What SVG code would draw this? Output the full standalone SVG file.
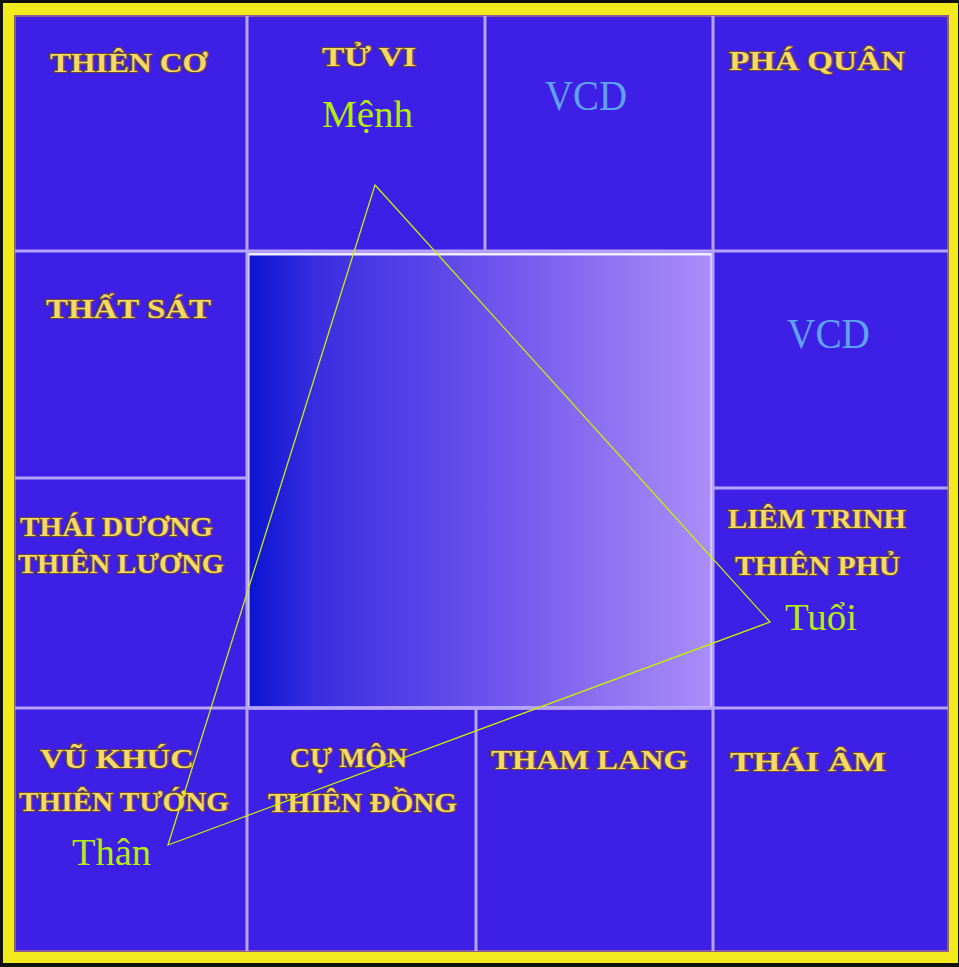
<svg xmlns="http://www.w3.org/2000/svg" width="959" height="967" viewBox="0 0 959 967">
<defs>
<linearGradient id="cg" x1="0" y1="0" x2="1" y2="0">
<stop offset="0" stop-color="#0a14d2"/>
<stop offset="0.15" stop-color="#3a2ee0"/>
<stop offset="0.5" stop-color="#6a50ec"/>
<stop offset="1" stop-color="#ab8ef8"/>
</linearGradient>
<style>
.lbl{font-family:"Liberation Serif","DejaVu Serif",serif;font-weight:bold;font-size:27px;fill:#f6d966;stroke:#6b4a3a;stroke-width:2.2px;paint-order:stroke;}
.vcd{font-family:"Liberation Serif","DejaVu Serif",serif;font-size:42px;fill:#5ea2f2;}
.pal{font-family:"Liberation Serif","DejaVu Serif",serif;font-size:38px;fill:#b4ec10;}
.grid{stroke:#b6a4fb;stroke-width:3;fill:none;}
.cbrd{stroke:#f2ecff;stroke-width:3;fill:none;}
.tri{stroke:#c8f000;stroke-width:1.3;fill:none;}
</style>
</defs>
<rect x="0" y="0" width="959" height="967" fill="#111"/>
<rect x="3" y="3" width="955" height="960" fill="#f2ea1c"/>
<rect x="15" y="16" width="933" height="935" fill="#3e1fe6"/>
<rect x="15" y="16" width="933" height="935" fill="none" stroke="#8a5a9a" stroke-width="2"/>

<g id="center">
<rect x="248" y="254" width="464" height="454" fill="url(#cg)"/>
<rect x="248" y="254" width="464" height="454" class="cbrd"/>
</g>

<g id="grid-lines">
<line x1="247" y1="16" x2="247" y2="951" class="grid"/>
<line x1="485" y1="16" x2="485" y2="252" class="grid"/>
<line x1="713" y1="16" x2="713" y2="951" class="grid"/>
<line x1="476" y1="708" x2="476" y2="951" class="grid"/>
<line x1="15" y1="251" x2="948" y2="251" class="grid"/>
<line x1="15" y1="478" x2="247" y2="478" class="grid"/>
<line x1="713" y1="488" x2="948" y2="488" class="grid"/>
<line x1="15" y1="708" x2="948" y2="708" class="grid"/>
</g>

<g id="cell-thien-co"><text class="lbl" x="50" y="72" textLength="157" lengthAdjust="spacingAndGlyphs">THIÊN CƠ</text></g>
<g id="cell-tu-vi"><text class="lbl" x="322" y="66" textLength="94" lengthAdjust="spacingAndGlyphs">TỬ VI</text><text class="pal" x="322" y="127" textLength="91" lengthAdjust="spacingAndGlyphs">Mệnh</text></g>
<g id="cell-vcd-top"><text class="vcd" x="545" y="110" textLength="82" lengthAdjust="spacingAndGlyphs">VCD</text></g>
<g id="cell-pha-quan"><text class="lbl" x="729" y="70" textLength="176" lengthAdjust="spacingAndGlyphs">PHÁ QUÂN</text></g>
<g id="cell-that-sat"><text class="lbl" x="46" y="318" textLength="165" lengthAdjust="spacingAndGlyphs">THẤT SÁT</text></g>
<g id="cell-vcd-right"><text class="vcd" x="787" y="348" textLength="83" lengthAdjust="spacingAndGlyphs">VCD</text></g>
<g id="cell-thai-duong"><text class="lbl" x="20" y="536" textLength="193" lengthAdjust="spacingAndGlyphs">THÁI DƯƠNG</text><text class="lbl" x="18" y="573" textLength="206" lengthAdjust="spacingAndGlyphs">THIÊN LƯƠNG</text></g>
<g id="cell-liem-trinh"><text class="lbl" x="728" y="528" textLength="178" lengthAdjust="spacingAndGlyphs">LIÊM TRINH</text><text class="lbl" x="735" y="575" textLength="165" lengthAdjust="spacingAndGlyphs">THIÊN PHỦ</text><text class="pal" x="785" y="630" textLength="72" lengthAdjust="spacingAndGlyphs">Tuổi</text></g>
<g id="cell-vu-khuc"><text class="lbl" x="40" y="768" textLength="154" lengthAdjust="spacingAndGlyphs">VŨ KHÚC</text><text class="lbl" x="19" y="811" textLength="210" lengthAdjust="spacingAndGlyphs">THIÊN TƯỚNG</text><text class="pal" x="72" y="865" textLength="79" lengthAdjust="spacingAndGlyphs">Thân</text></g>
<g id="cell-cu-mon"><text class="lbl" x="290" y="767" textLength="117" lengthAdjust="spacingAndGlyphs">CỰ MÔN</text><text class="lbl" x="268" y="812" textLength="189" lengthAdjust="spacingAndGlyphs">THIÊN ĐỒNG</text></g>
<g id="cell-tham-lang"><text class="lbl" x="491" y="769" textLength="197" lengthAdjust="spacingAndGlyphs">THAM LANG</text></g>
<g id="cell-thai-am"><text class="lbl" x="730" y="771" textLength="156" lengthAdjust="spacingAndGlyphs">THÁI ÂM</text></g>

<g id="connectors">
<polygon class="tri" points="375,185 770,622 168,845"/>
</g>
</svg>
